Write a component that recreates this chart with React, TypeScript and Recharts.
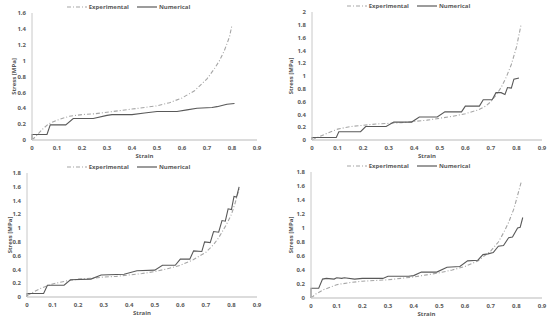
import React from "react";
import { LineChart, Line, XAxis, YAxis, Legend, Label } from "recharts";

const strainTicks = [0, 0.1, 0.2, 0.3, 0.4, 0.5, 0.6, 0.7, 0.8, 0.9];
const stressTicks16 = [0, 0.2, 0.4, 0.6, 0.8, 1, 1.2, 1.4, 1.6];
const stressTicks18 = [0, 0.2, 0.4, 0.6, 0.8, 1, 1.2, 1.4, 1.6, 1.8];
const stressTicks20 = [0, 0.2, 0.4, 0.6, 0.8, 1, 1.2, 1.4, 1.6, 1.8, 2];

// panel A (top left)
const expStrainA = [0, 0.02, 0.04, 0.065, 0.1, 0.15, 0.2, 0.25, 0.3, 0.35, 0.4, 0.45, 0.5, 0.55, 0.6, 0.65, 0.7, 0.73, 0.75, 0.77, 0.79, 0.8];
const expStressA = [0, 0.06, 0.13, 0.2, 0.25, 0.3, 0.32, 0.33, 0.35, 0.37, 0.39, 0.41, 0.43, 0.47, 0.53, 0.62, 0.77, 0.9, 1.0, 1.13, 1.3, 1.45];
const numStrainA = [0, 0, 0.06, 0.073, 0.135, 0.165, 0.245, 0.3, 0.32, 0.4, 0.45, 0.5, 0.58, 0.62, 0.66, 0.72, 0.74, 0.78, 0.81];
const numStressA = [0, 0.07, 0.07, 0.19, 0.19, 0.27, 0.27, 0.31, 0.32, 0.32, 0.34, 0.36, 0.36, 0.38, 0.4, 0.41, 0.42, 0.45, 0.46];

// panel B (top right)
const expStrainB = [0, 0.05, 0.1, 0.15, 0.2, 0.25, 0.3, 0.35, 0.4, 0.45, 0.5, 0.55, 0.6, 0.65, 0.68, 0.7, 0.72, 0.74, 0.76, 0.78, 0.8, 0.818];
const expStressB = [0, 0.09, 0.17, 0.21, 0.23, 0.25, 0.26, 0.27, 0.29, 0.31, 0.34, 0.37, 0.41, 0.47, 0.53, 0.6, 0.7, 0.82, 0.98, 1.18, 1.45, 1.8];
const numStrainB = [0, 0, 0.095, 0.105, 0.19, 0.21, 0.29, 0.32, 0.39, 0.42, 0.49, 0.52, 0.585, 0.6, 0.655, 0.67, 0.705, 0.72, 0.74, 0.755, 0.765, 0.78, 0.79, 0.81];
const numStressB = [0, 0.04, 0.04, 0.13, 0.13, 0.21, 0.21, 0.28, 0.28, 0.36, 0.36, 0.44, 0.44, 0.53, 0.53, 0.63, 0.63, 0.74, 0.74, 0.71, 0.82, 0.81, 0.95, 0.97];

// panel C (bottom left)
const expStrainC = [0, 0.05, 0.1, 0.15, 0.2, 0.25, 0.3, 0.35, 0.4, 0.45, 0.5, 0.55, 0.6, 0.65, 0.7, 0.73, 0.75, 0.78, 0.8, 0.815, 0.83];
const expStressC = [0.02, 0.12, 0.19, 0.23, 0.26, 0.27, 0.29, 0.3, 0.32, 0.34, 0.37, 0.41, 0.46, 0.54, 0.65, 0.76, 0.86, 1.05, 1.2, 1.37, 1.57];
const numStrainC = [0, 0, 0.065, 0.08, 0.145, 0.17, 0.25, 0.29, 0.38, 0.43, 0.5, 0.53, 0.58, 0.6, 0.637, 0.652, 0.684, 0.695, 0.717, 0.73, 0.75, 0.763, 0.776, 0.787, 0.8, 0.81, 0.82, 0.83];
const numStressC = [0, 0.05, 0.05, 0.17, 0.17, 0.25, 0.26, 0.32, 0.33, 0.38, 0.39, 0.46, 0.46, 0.55, 0.55, 0.67, 0.66, 0.8, 0.79, 0.95, 0.94, 1.11, 1.1, 1.28, 1.27, 1.46, 1.45, 1.6];

// panel D (bottom right)
const expStrainD = [0, 0.02, 0.05, 0.1, 0.15, 0.2, 0.25, 0.3, 0.35, 0.4, 0.45, 0.5, 0.55, 0.6, 0.65, 0.7, 0.73, 0.75, 0.77, 0.79, 0.8, 0.82];
const expStressD = [0, 0.06, 0.12, 0.19, 0.22, 0.24, 0.25, 0.26, 0.28, 0.3, 0.33, 0.36, 0.4, 0.45, 0.53, 0.67, 0.8, 0.93, 1.08, 1.27, 1.4, 1.67];
const numStrainD = [0, 0, 0.03, 0.045, 0.06, 0.09, 0.1, 0.12, 0.13, 0.17, 0.2, 0.28, 0.3, 0.38, 0.4, 0.43, 0.49, 0.53, 0.58, 0.61, 0.65, 0.67, 0.69, 0.71, 0.73, 0.75, 0.77, 0.785, 0.805, 0.815, 0.825];
const numStressD = [0, 0.14, 0.14, 0.27, 0.28, 0.27, 0.29, 0.28, 0.29, 0.27, 0.28, 0.28, 0.31, 0.31, 0.32, 0.37, 0.37, 0.44, 0.45, 0.53, 0.54, 0.62, 0.63, 0.65, 0.74, 0.75, 0.86, 0.87, 1.0, 1.01, 1.15];

const FONT = "'Open Sans', Lato, sans-serif";
const TEXT = "#595959";
const EXP_COLOR = "#a6a6a6";
const NUM_COLOR = "#595959";
const EXP_DASH = "4 2 1 2";

const toPoints = (xs: number[], ys: number[]) => xs.map((x, i) => ({ x, y: ys[i] }));
const fmt = (v: number) => String(Number(v.toFixed(1)));

function LegendBox() {
  return (
    <div
      style={{
        display: "flex",
        justifyContent: "center",
        alignItems: "center",
        height: 12,
        fontFamily: FONT,
        fontSize: 6,
        fontWeight: 700,
        color: TEXT,
        gap: 8,
      }}
    >
      <span style={{ display: "flex", alignItems: "center", gap: 2 }}>
        <svg width={20} height={4}>
          <line x1={0} y1={2} x2={20} y2={2} stroke={EXP_COLOR} strokeWidth={1.2} strokeDasharray={EXP_DASH} />
        </svg>
        Experimental
      </span>
      <span style={{ display: "flex", alignItems: "center", gap: 2 }}>
        <svg width={20} height={4}>
          <line x1={0} y1={2} x2={20} y2={2} stroke={NUM_COLOR} strokeWidth={1.2} />
        </svg>
        Numerical
      </span>
    </div>
  );
}

interface PanelProps {
  expX: number[];
  expY: number[];
  numX: number[];
  numY: number[];
  yTicks: number[];
  yWidth: number;
  right: number;
  top: number;
  xHeight: number;
  labelDx: number;
  labelOffset: number;
}

function Panel({ expX, expY, numX, numY, yTicks, yWidth, right, top, xHeight, labelDx, labelOffset }: PanelProps) {
  const tick = { fontSize: 6, fontWeight: 700, fill: TEXT, fontFamily: FONT };
  return (
    <LineChart width={275} height={160} margin={{ top: top - 12, right, bottom: 0, left: 0 }}>
      <XAxis
        type="number"
        dataKey="x"
        domain={[0, 0.9]}
        ticks={strainTicks}
        tickFormatter={fmt}
        tickLine={false}
        height={xHeight}
        stroke="#d0d0d0"
        strokeWidth={1.5}
        tick={tick}
        tickMargin={0}
      >
        <Label value="Strain" position="insideBottom" offset={labelOffset} fill={TEXT} style={tick} />
      </XAxis>
      <YAxis
        type="number"
        dataKey="y"
        domain={[0, yTicks[yTicks.length - 1]]}
        ticks={yTicks}
        tickFormatter={fmt}
        tickLine={false}
        width={yWidth}
        stroke="#c8c8c8"
        tick={tick}
        tickMargin={0}
      >
        <Label value="Stress [MPa]" angle={-90} position="center" dx={labelDx} fill={TEXT} style={tick} />
      </YAxis>
      <Legend verticalAlign="top" align="center" content={() => <LegendBox />} />
      <Line
        data={toPoints(expX, expY)}
        dataKey="y"
        name="Experimental"
        stroke={EXP_COLOR}
        strokeWidth={1.1}
        strokeDasharray={EXP_DASH}
        dot={false}
        type="linear"
        isAnimationActive={false}
      />
      <Line
        data={toPoints(numX, numY)}
        dataKey="y"
        name="Numerical"
        stroke={NUM_COLOR}
        strokeWidth={1.1}
        dot={false}
        type="linear"
        isAnimationActive={false}
      />
    </LineChart>
  );
}

export default function App() {
  return (
    <div style={{ position: "absolute", left: 0, top: 0, width: 550, height: 320, background: "#fff" }}>
      <div style={{ position: "absolute", left: 0, top: 0 }}>
        <Panel expX={expStrainA} expY={expStressA} numX={numStrainA} numY={numStressA} yTicks={stressTicks16}
          yWidth={32} right={18} top={13} xHeight={20} labelDx={-2} labelOffset={2} />
      </div>
      <div style={{ position: "absolute", left: 275, top: 0 }}>
        <Panel expX={expStrainB} expY={expStressB} numX={numStrainB} numY={numStressB} yTicks={stressTicks20}
          yWidth={37} right={8} top={12} xHeight={20} labelDx={-3} labelOffset={2} />
      </div>
      <div style={{ position: "absolute", left: 0, top: 160 }}>
        <Panel expX={expStrainC} expY={expStressC} numX={numStrainC} numY={numStressC} yTicks={stressTicks18}
          yWidth={27} right={18} top={13} xHeight={23} labelDx={-4} labelOffset={5} />
      </div>
      <div style={{ position: "absolute", left: 275, top: 160 }}>
        <Panel expX={expStrainD} expY={expStressD} numX={numStrainD} numY={numStressD} yTicks={stressTicks18}
          yWidth={36} right={8} top={12} xHeight={22} labelDx={-2} labelOffset={4} />
      </div>
    </div>
  );
}
